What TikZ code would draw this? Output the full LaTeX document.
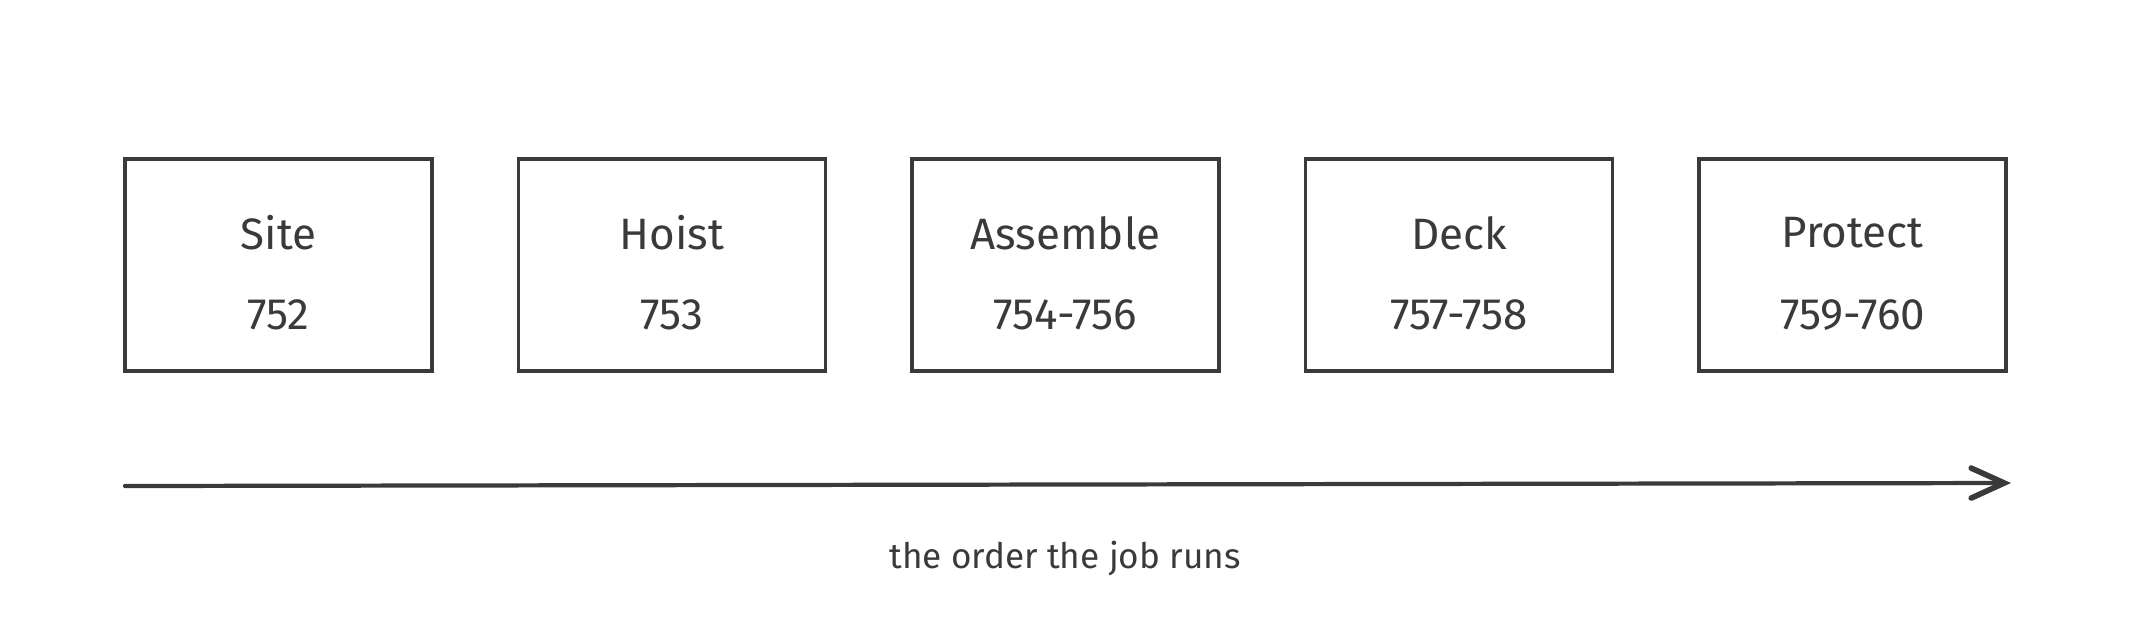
\documentclass[tikz,border=0pt]{standalone}
\usepackage{fontspec}
\setmainfont{Fira Sans}
\usepackage{tikz}
\usetikzlibrary{positioning, arrows.meta}
\definecolor{ink}{RGB}{58,58,60}
\tikzset{
    every node/.style={text=ink}, % all texts in the dark grey ink
    stage/.style={draw=ink, line width=1pt, minimum width=3.07cm, minimum height=2.12cm, inner sep=0pt}, % one box per step of the job
    stagename/.style={font=\fontsize{12.5}{14}\selectfont}, % the step's name
    stagenum/.style={font=\fontsize{12.5}{14}\selectfont}, % the step's numbers
    node distance=0.83cm, % gap between two boxes
}

\begin{document}
\begin{tikzpicture}
    \useasboundingbox (0,0) rectangle (21.33,-6.40);
    \node[stage] (site) at (2.785,-2.65) {};
    \node[stage, right=of site] (hoist) {};
    \node[stage, right=of hoist] (assemble) {};
    \node[stage, right=of assemble] (deck) {};
    \node[stage, right=of deck] (protect) {};
    % names and numbers inside the boxes
    \node[stagename] (sitename) at ([yshift=0.32cm]site.center) {Site};
    \node[stagenum] (sitenum) at ([yshift=-0.50cm]site.center) {752};
    \node[stagename] (hoistname) at ([yshift=0.32cm]hoist.center) {Hoist};
    \node[stagenum] (hoistnum) at ([yshift=-0.50cm]hoist.center) {753};
    \node[stagename] (assemblename) at ([yshift=0.32cm]assemble.center) {Assemble};
    \node[stagenum] (assemblenum) at ([yshift=-0.50cm]assemble.center) {754-756};
    \node[stagename] (deckname) at ([yshift=0.32cm]deck.center) {Deck};
    \node[stagenum] (decknum) at ([yshift=-0.50cm]deck.center) {757-758};
    \node[stagename] (protectname) at ([yshift=0.32cm]protect.center) {Protect};
    \node[stagenum] (protectnum) at ([yshift=-0.50cm]protect.center) {759-760};
    % the time line
    \coordinate (start) at (1.25,-4.86);
    \coordinate (finish) at (20.11,-4.83);
    \draw[ink, line width=1.2pt, line cap=round, -{Straight Barb[length=3.3mm, width=3mm, line cap=round, line width=1.6pt]}] (start) -- (finish);
    \node[font=\fontsize{10}{12}\selectfont] (order) at (10.65,-5.59) {the order the job runs};
\end{tikzpicture}
\end{document}
